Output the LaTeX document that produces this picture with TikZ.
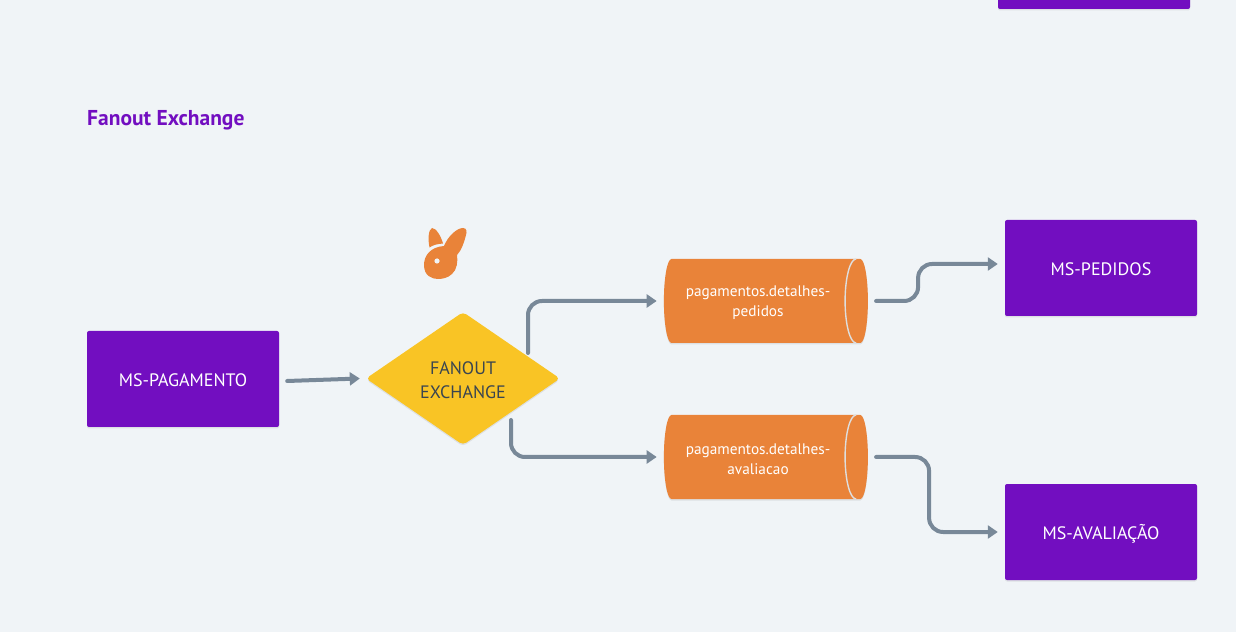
\documentclass[tikz,border=0pt]{standalone}
\usepackage{fontspec}
\setmainfont{PT Sans}
\usepackage{xcolor}
\usetikzlibrary{calc,arrows.meta,positioning,shapes.geometric,shadows}
\definecolor{msviolet}{RGB}{114, 14, 192}
\definecolor{qorange}{RGB}{233, 131, 57}
\definecolor{fanyellow}{RGB}{249, 196, 37}
\definecolor{linkgray}{RGB}{120, 136, 152}
\definecolor{pagebg}{RGB}{240, 244, 247}
\definecolor{fantext}{RGB}{58, 69, 80}
\definecolor{capline}{RGB}{222, 222, 222}
\tikzset{
  softshadow/.style={drop shadow={shadow xshift=0pt,shadow yshift=-1.5pt,opacity=0.08,fill=black}},
  msbox/.style={rectangle,rounded corners=2pt,fill=msviolet,text=white,minimum width=192pt,minimum height=96pt,inner sep=0pt,text height=15pt,text depth=0pt,font=\fontsize{18}{22}\selectfont,softshadow},
  fanbox/.style={diamond,rounded corners=4pt,fill=fanyellow,text=fantext,minimum width=194pt,minimum height=133pt,inner sep=0pt,align=center,font=\fontsize{18}{24}\selectfont,softshadow},
  queuebox/.style={cylinder,shape border rotate=0,aspect=0.5,fill=qorange,minimum width=84pt,minimum height=204pt,inner sep=0pt,align=center,font=\fontsize{14.5}{20}\selectfont,softshadow},
  queuetext/.style={text=white,inner sep=0pt,align=center,font=\fontsize{15.3}{20}\selectfont},
  link/.style={draw=linkgray,line width=4pt,line cap=round,-{Triangle[length=10pt,width=13pt]}},
}
\begin{document}
\begin{tikzpicture}[x=1pt,y=1pt]
\useasboundingbox (0,0) rectangle (1236,632);
\clip (0,0) rectangle (1236,632);
\fill[pagebg] (0,0) rectangle (1236,632);

% Title
\node[anchor=west,inner sep=0pt,text=msviolet,font=\fontsize{21.5}{24}\selectfont\bfseries] (title) at (87,512) {Fanout Exchange};

% Services
\node[msbox] (mstop) at (1094,671) {};
\node[msbox] (mspag) at (183,253) {MS-PAGAMENTO};
\node[msbox] (msped) at (1101,364) {MS-PEDIDOS};
\node[msbox] (msava) at (1101,100) {MS-AVALIAÇÃO};

% Exchange
\node[fanbox] (fan) at (463,253.5) {\rule{0pt}{17pt}FANOUT\\EXCHANGE};

% Queues
\node[queuebox] (qped) at (762,331) {\phantom{p}\\\phantom{p}};
\node[queuebox] (qava) at (762,175) {\phantom{p}\\\phantom{p}};
\node[queuetext] (lped) at ([shift={(-4,-2)}]qped.center) {pagamentos.detalhes-\\pedidos};
\node[queuetext] (lava) at ([shift={(-4,-2)}]qava.center) {pagamentos.detalhes-\\avaliacao};
\foreach \q in {qped,qava} {
    \draw[capline,line width=1.4pt] ($(\q.east)+(-12,42)$) arc[start angle=90,end angle=270,x radius=11pt,y radius=42pt];
}

% Rabbit
\begin{scope}[shift={(437,370)}]
\fill[qorange] (-13,-3) .. controls (-13,6) and (-7,15) .. (7,16)
    .. controls (11,26) and (20,34) .. (26,34)
    .. controls (30,34) and (30,30) .. (29,27)
    .. controls (27,19) and (24,11) .. (20,7)
    .. controls (21,1) and (20,-8) .. (15,-12)
    .. controls (11,-16) and (5,-17) .. (1,-17)
    .. controls (-5,-17) and (-13,-14) .. (-13,-3) -- cycle;
\fill[qorange] (-7.5,14.5) .. controls (-9,22) and (-9,32) .. (-5,34)
    .. controls (-1,34) and (4,26) .. (6,18.5) .. controls (0,18) and (-4,17) .. (-7.5,14.5) -- cycle;
\fill[pagebg] (0,1) circle (2.6pt);
\end{scope}

% Links
\draw[link] ([shift={(8,-2)}]mspag.east) -- ([xshift=-6pt]fan.west);
\draw[link,rounded corners=14pt] ([shift={(65,25.5)}]fan.center) |- ([xshift=-7pt]qped.west);
\draw[link,rounded corners=14pt] ([shift={(48,-41.5)}]fan.center) |- ([xshift=-7pt]qava.west);
\draw[link,rounded corners=14pt] ([xshift=8pt]qped.east) -- ++(42,0) -- ++(0,37) -- ([shift={(-7,4)}]msped.west);
\draw[link,rounded corners=14pt] ([xshift=8pt]qava.east) -| ++(53,-75) -- ([xshift=-7pt]msava.west);
\end{tikzpicture}
\end{document}
